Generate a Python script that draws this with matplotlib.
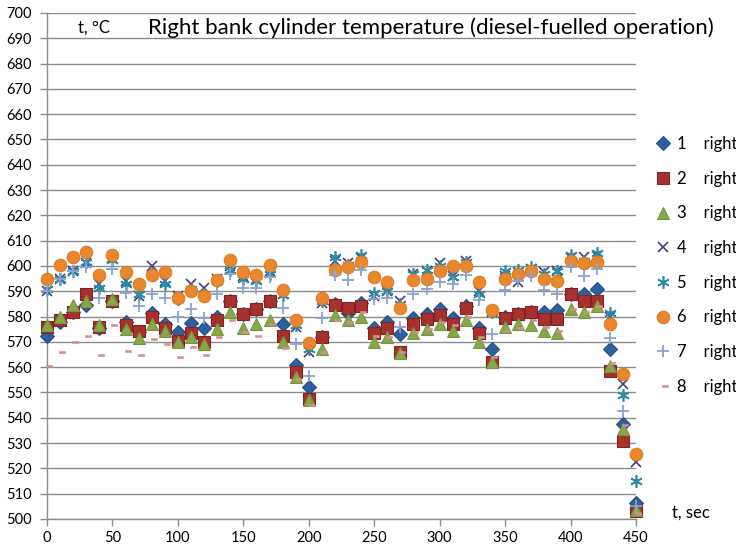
import matplotlib
matplotlib.use("Agg")
import matplotlib.pyplot as plt
from matplotlib.path import Path

plt.rcParams['font.family'] = ['Lato', 'DejaVu Sans']

time_s = [0, 10, 20, 30, 40, 50, 60, 70, 80, 90,
          100, 110, 120, 130, 140, 150, 160, 170, 180, 190,
          200, 210, 220, 230, 240, 250, 260, 270, 280, 290,
          300, 310, 320, 330, 340, 350, 360, 370, 380, 390,
          400, 410, 420, 430, 440, 450]

cyl1 = [572.5, 578, 582, 584.5, 575.5, 586, 578, 574, 581.5, 577,
        574, 577.5, 575.5, 580, 586, 581, 583, 586, 577, 561,
        552, 572, 585, 581.5, 585.5, 575.5, 578, 573, 579.5, 581,
        583, 579.5, 584, 575.5, 567, 580, 581, 582, 582, 582.5,
        589, 589, 591, 567, 537.5, 506.5]
cyl2 = [576, 578.5, 582, 589, 576, 586, 576.5, 574.5, 580, 575.5,
        570.5, 573.5, 570, 578.5, 586, 581, 583, 586, 572.5, 558,
        547.5, 572, 584.5, 583.5, 584, 573.5, 575.5, 566, 577, 579,
        580.5, 577, 583.5, 573.5, 562, 579.5, 581, 582, 579, 579,
        589, 586, 586, 558.5, 531, 503]
cyl3 = [576.5, 580, 584.5, 586, 576.5, 587, 575, 571.5, 577, 574.5,
        570, 572, 569, 575, 582, 575.5, 577, 578.5, 570, 556,
        547, 567, 580.5, 578.5, 580, 570, 572, 565.5, 573.5, 575,
        577, 574.5, 578.5, 570, 562, 576, 577, 576.5, 574.5, 573.5,
        583, 582, 584, 560.5, 535.5, 503.5]
cyl4 = [590, 595, 598, 601, 593, 603, 594, 588, 600, 594,
        588, 593, 591.5, 595, 600, 596, 595, 598, 589, 576,
        566, 585.5, 602, 601, 603, 588, 590, 586, 597, 598,
        601, 596, 602, 590, 582, 596, 593.5, 599, 597.5, 598,
        603, 603.5, 604, 580, 553.5, 522.5]
cyl5 = [591, 595, 598, 601.5, 591.5, 602.5, 593, 589, 597, 593,
        587, 591, 589, 594, 598.5, 595, 594, 597, 588.5, 576.5,
        567, 586, 603.5, 600.5, 604.5, 589.5, 590, 585, 597, 598.5,
        600, 595.5, 601.5, 589, 582, 598, 598.5, 599.5, 597, 598,
        604.5, 602, 605, 581.5, 549, 515]
cyl6 = [595, 600.5, 603.5, 605.5, 596.5, 604.5, 597.5, 593, 596.5, 597.5,
        587.5, 590, 588, 594.5, 602.5, 597.5, 596.5, 600.5, 590.5, 578.5,
        569.5, 587.5, 598.5, 599.5, 601.5, 595.5, 593.5, 583.5, 594.5, 595,
        598, 600, 600, 593.5, 582.5, 595, 597, 598, 595, 594,
        602, 601, 601.5, 577, 557.5, 525.5]
cyl7 = [590, 595, 598, 599.5, 587.5, 599, 589.5, 584, 589, 587.5,
        580, 583, 579.5, 589, 597, 591.5, 591.5, 595.5, 583.5, 569,
        556.5, 579.5, 596.5, 594.5, 598.5, 587, 587.5, 576, 589, 591,
        593.5, 593, 596.5, 586.5, 573, 590.5, 594, 596, 590.5, 589,
        599.5, 596, 599, 571.5, 542.5, 505]
cyl8 = [560.5, 566, 570, 572.5, 565, 576.5, 566.5, 565, 571, 569,
        564, 568, 565, 572, 578.5, 574, 572.5, 577, 567.5, 555.5,
        545, 566, 578.5, 578, 582, 572.5, 572, 566, 574, 575,
        578, 576.5, 580, 572, 564, 574.5, 575.5, 578.5, 576, 574.5,
        583, 582, 584, 561.5, 537, 502.5]

series_labels = ["1    right", "2    right", "3    right", "4    right",
                 "5    right", "6    right", "7    right", "8    right"]
x_ticks = [0, 50, 100, 150, 200, 250, 300, 350, 400, 450]
y_ticks = list(range(500, 701, 10))

# Excel-style dash marker (drawn slightly right of the data point, as in the original)
dash_marker = Path([(-0.2, -0.5), (1.8, -0.5), (1.8, 0.5), (-0.2, 0.5), (-0.2, -0.5)],
                   [Path.MOVETO, Path.LINETO, Path.LINETO, Path.LINETO, Path.CLOSEPOLY])

styles = [
    dict(marker='D', ms=7.5, mfc='#2E5F9E', mec='#264F86', mew=0.8),
    dict(marker='s', ms=8.5, mfc='#A8302D', mec='#7E2624', mew=0.8),
    dict(marker='^', ms=9, mfc='#86A84A', mec='#77973F', mew=0.8),
    dict(marker='x', ms=7.5, mfc='none', mec='#4A3A78', mew=1.2),
    dict(marker=(6, 2, 0), ms=9, mfc='none', mec='#2A8CA6', mew=1.2),
    dict(marker='o', ms=9, mfc='#E8872E', mec='#E07B22', mew=0.8),
    dict(marker='+', ms=9, mfc='none', mec='#8AA3CE', mew=1.3),
    dict(marker=dash_marker, ms=7.7, mfc='#D48E8C', mec='#D48E8C', mew=0.4),
]

fig = plt.figure(figsize=(7.36, 5.49), dpi=100)
ax = fig.add_axes([47 / 736, 30 / 549, 589 / 736, 506 / 549])

all_series = [cyl1, cyl2, cyl3, cyl4, cyl5, cyl6, cyl7, cyl8]
for vals, lab, st in zip(all_series, series_labels, styles):
    ax.plot(time_s, vals, linestyle='none', label=lab, clip_on=False, zorder=3, **st)

ax.set_xlim(0, 450)
ax.set_ylim(500, 700)
ax.set_xticks(x_ticks)
ax.set_yticks(y_ticks)
ax.yaxis.grid(True, color='#8C8C8C', linewidth=1.0, zorder=0)
ax.set_axisbelow(True)
for side in ['top', 'right']:
    ax.spines[side].set_visible(False)
for side in ['left', 'bottom']:
    ax.spines[side].set_color('#8C8C8C')
    ax.spines[side].set_linewidth(1.0)
ax.tick_params(axis='both', colors='#8C8C8C', labelcolor='black', labelsize=10.5,
               length=5, width=1.0, direction='out')
ax.tick_params(axis='y', pad=6)

fig.text(78 / 736, 1 - 28 / 549, "t, °C", fontsize=12, va='center', ha='left')
fig.text(148 / 736, 1 - 28 / 549, "Right bank cylinder temperature (diesel-fuelled operation)",
         fontsize=16, va='center', ha='left')
fig.text(672 / 736, 1 - 513 / 549, "t, sec", fontsize=12, va='center', ha='left')

leg = fig.legend(loc='upper left', bbox_to_anchor=(655 / 736, 1 - 136 / 549),
                 frameon=False, fontsize=12, handlelength=1.0, handletextpad=0.3,
                 labelspacing=1.12, borderaxespad=0, borderpad=0)

fig.savefig("out.png", dpi=100)
